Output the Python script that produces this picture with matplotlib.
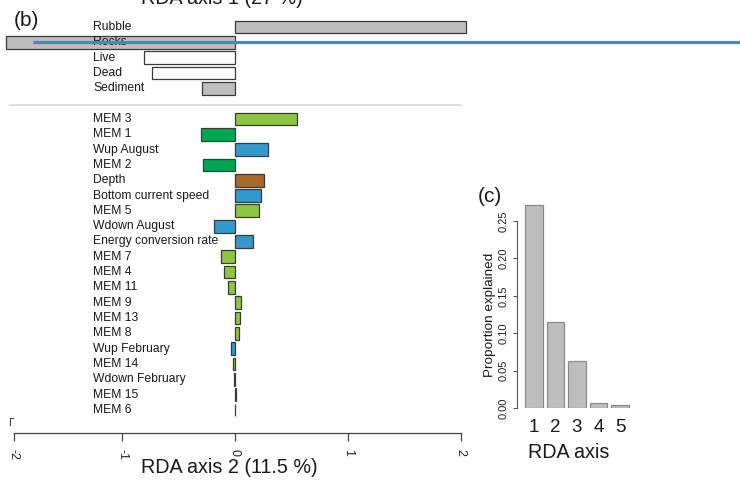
import matplotlib
matplotlib.use('Agg')
import matplotlib.pyplot as plt
import numpy as np
from matplotlib.lines import Line2D

plt.rcParams['font.family'] = ['Liberation Sans', 'DejaVu Sans']

# ---------------- data ----------------
env_labels = ["Rubble", "Rocks", "Live", "Dead", "Sediment"]
env_values = [2.05, -2.03, -0.81, -0.74, -0.29]
env_groups = ["substrate", "substrate", "coral", "coral", "substrate"]

pred_labels = ["MEM 3", "MEM 1", "Wup August", "MEM 2", "Depth",
               "Bottom current speed", "MEM 5", "Wdown August",
               "Energy conversion rate", "MEM 7", "MEM 4", "MEM 11", "MEM 9",
               "MEM 13", "MEM 8", "Wup February", "MEM 14", "Wdown February",
               "MEM 15", "MEM 6"]
pred_values = [0.55, -0.30, 0.29, -0.28, 0.26,
               0.23, 0.21, -0.19,
               0.16, -0.12, -0.10, -0.06, 0.057,
               0.042, 0.036, -0.036, -0.02, -0.012,
               0.006, 0.001]
pred_groups = ["mem", "mem_broad", "hydro", "mem_broad", "topo",
               "hydro", "mem", "hydro",
               "hydro", "mem", "mem", "mem", "mem",
               "mem", "mem", "hydro", "mem", "hydro",
               "mem", "mem"]

axis_numbers = ["1", "2", "3", "4", "5"]
prop_explained = [0.271, 0.115, 0.063, 0.007, 0.004]

group_colors = {"substrate": "#BEBEBE", "coral": "#FFFFFF",
                "mem": "#8DC63F", "mem_broad": "#00A651",
                "hydro": "#3399CC", "topo": "#A6692A"}

# ---------------- layout helpers ----------------
W, H = 740, 480
fig = plt.figure(figsize=(7.4, 4.8), dpi=100)


def fx(px):
    return px / W


def fy(py):
    return 1 - py / H


PPU = 112.8            # pixels per RDA unit
ZERO_PX = 235.0
XL = -ZERO_PX / PPU
XR = (W - ZERO_PX) / PPU
ROW_PX = 15.32
ROW0_PX = 27.0
AXIS_PX = 433.0

axb = fig.add_axes([0, fy(AXIS_PX), 1, AXIS_PX / H])
axb.set_xlim(XL, XR)
axb.set_ylim((AXIS_PX - ROW0_PX) / ROW_PX, -ROW0_PX / ROW_PX)
axb.patch.set_alpha(0)

env_rows = np.arange(len(env_labels))
pred_rows = np.arange(len(pred_labels)) + len(env_labels) + 1

label_x = XL + 93 / PPU
bar_kw = dict(height=0.83, edgecolor="#3a3a3a", linewidth=0.9, zorder=3)

axb.barh(env_rows, env_values, color=[group_colors[g] for g in env_groups], **bar_kw)
axb.barh(pred_rows, pred_values, color=[group_colors[g] for g in pred_groups], **bar_kw)

for r, lab in zip(list(env_rows) + list(pred_rows), env_labels + pred_labels):
    axb.text(label_x, r, lab, ha="left", va="center", fontsize=8.7,
             color="#1a1a1a", zorder=4)

# separator between groups
sep_y = len(env_labels) + 0.09
axb.plot([XL + 10 / PPU, 2.0], [sep_y, sep_y], color="#DDDDDD", lw=1.3, zorder=1)

# blue overlay line across the Rocks row
axb.plot([XL + 33 / PPU, XR], [env_rows[1], env_rows[1]], color="#3391C9",
         lw=2.3, solid_capstyle="butt", zorder=6)

for s in ["top", "right", "left"]:
    axb.spines[s].set_visible(False)
axb.spines["bottom"].set_bounds(XL + 14 / PPU, 2)
axb.spines["bottom"].set_color("#444444")
axb.spines["bottom"].set_linewidth(0.9)
axb.set_yticks([])
axb.set_xticks([-1.96, -1, 0, 1, 2])
axb.set_xticklabels(["-2", "-1", "0", "1", "2"], rotation=-90, va="top", ha="center")
axb.tick_params(axis="x", length=5.5, width=0.9, colors="#444444", pad=6,
                labelsize=9, labelcolor="#222222")

fig.text(fx(222), fy(4.5), "RDA axis 1 (27 %)", ha="center", va="baseline",
         fontsize=14.2, color="#1a1a1a")
fig.text(fx(229), fy(473), "RDA axis 2 (11.5 %)", ha="center", va="baseline",
         fontsize=14.2, color="#1a1a1a")
fig.text(fx(26.5), fy(20), "(b)", ha="center", va="center", fontsize=15, color="#1a1a1a")

fig.add_artist(Line2D([fx(13), fx(10), fx(10)], [fy(418), fy(418), fy(425)],
                      color="#444444", lw=0.8))

# ---------------- panel (c) ----------------
PXC = 17.93
c_left, c_right = 516.7, 640.0
c_bottom, c_top = 408.3, 202.05
xl_c = 0.2 - (525 - c_left) / PXC
xr_c = xl_c + (c_right - c_left) / PXC
axc = fig.add_axes([fx(c_left), fy(c_bottom), (c_right - c_left) / W,
                    (c_bottom - c_top) / H])
axc.set_xlim(xl_c, xr_c)
axc.set_ylim(0, 0.275)
axc.patch.set_alpha(0)

pos = 0.7 + 1.2 * np.arange(len(axis_numbers))
axc.bar(pos, prop_explained, width=1.0, color="#BEBEBE", edgecolor="#8a8a8a",
        linewidth=0.9)

for s in ["top", "right", "bottom"]:
    axc.spines[s].set_visible(False)
axc.spines["left"].set_bounds(0, 0.25)
axc.spines["left"].set_color("#555555")
axc.spines["left"].set_linewidth(0.8)
yt = np.arange(0, 0.2501, 0.05)
axc.set_yticks(yt)
axc.set_yticklabels([f"{v:.2f}" for v in yt], rotation=90, va="center")
axc.tick_params(axis="y", length=3, width=0.8, colors="#555555", pad=3,
                labelsize=8, labelcolor="#222222")
axc.set_xticks(pos)
axc.set_xticklabels(axis_numbers)
axc.tick_params(axis="x", length=0, pad=8, labelsize=13.5, labelcolor="#1a1a1a")

fig.text(fx(569), fy(458), "RDA axis", ha="center", va="baseline",
         fontsize=14.2, color="#1a1a1a")
fig.text(fx(490), fy(315), "Proportion explained", ha="center", va="center",
         rotation=90, fontsize=9.7, color="#1a1a1a")
fig.text(fx(490), fy(197), "(c)", ha="center", va="center", fontsize=15, color="#1a1a1a")

fig.savefig("out.png", dpi=100)
